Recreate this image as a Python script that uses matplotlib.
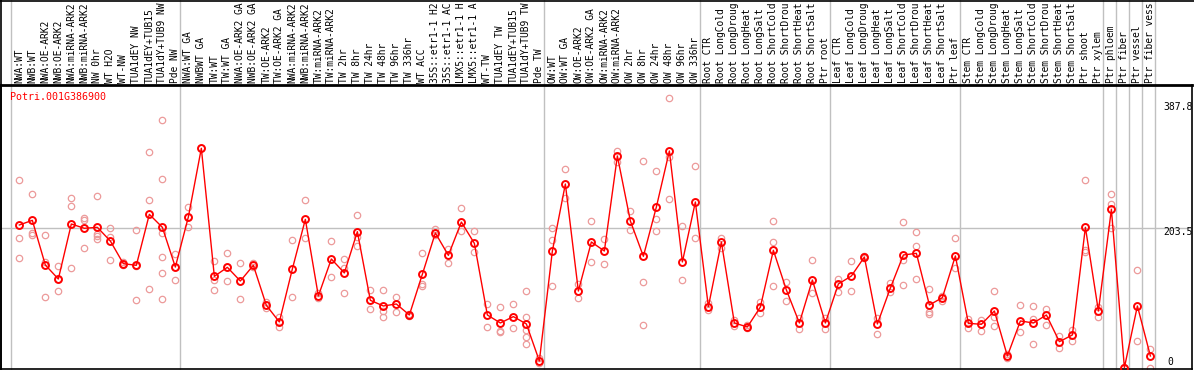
import matplotlib
matplotlib.use("Agg")
import matplotlib.pyplot as plt
from matplotlib.lines import Line2D
from matplotlib.transforms import blended_transform_factory

# gene being shown
gene_id = "Potri.001G386900"

# sample names, left to right (the chart shows at most 14 characters of each)
labels = [
    "NWA:WT", "NWB:WT", "NWA:OE-ARK2", "NWB:OE-ARK2", "NWA:miRNA-ARK2", "NWB:miRNA-ARK2",
    "NW 0hr", "WT H2O", "WT-NW", "TUA1dEY NW", "TUA1dEY+TUB15", "TUA1dY+TUB9 NW", "Pde NW",
    "NWA:WT GA", "NWBWT GA", "TW:WT", "TW:WT GA", "NWA:OE-ARK2 GA", "NWB:OE-ARK2 GA",
    "TW:OE-ARK2", "TW:OE-ARK2 GA", "NWA:miRNA-ARK2 GA", "NWB:miRNA-ARK2 GA", "TW:miRNA-ARK2",
    "TW:miRNA-ARK2 GA", "TW 2hr", "TW 8hr", "TW 24hr", "TW 48hr", "TW 96hr", "TW 336hr",
    "WT ACC", "35S::etr1-1 H2O", "35S::etr1-1 ACC", "LMX5::etr1-1 H2O", "LMX5::etr1-1 ACC",
    "WT-TW", "TUA1dEY TW", "TUA1dEY+TUB15", "TUA1dY+TUB9 TW", "Pde TW",
    "OW:WT", "OW:WT GA", "OW:OE-ARK2", "OW:OE-ARK2 GA", "OW:miRNA-ARK2", "OW:miRNA-ARK2 GA",
    "OW 2hr", "OW 8hr", "OW 24hr", "OW 48hr", "OW 96hr", "OW 336hr",
    "Root CTR", "Root LongCold", "Root LongDrought", "Root LongHeat", "Root LongSalt",
    "Root ShortCold", "Root ShortDrought", "Root ShortHeat", "Root ShortSalt", "Ptr root",
    "Leaf CTR", "Leaf LongCold", "Leaf LongDrought", "Leaf LongHeat", "Leaf LongSalt",
    "Leaf ShortCold", "Leaf ShortDrought", "Leaf ShortHeat", "Leaf ShortSalt", "Ptr leaf",
    "Stem CTR", "Stem LongCold", "Stem LongDrought", "Stem LongHeat", "Stem LongSalt",
    "Stem ShortCold", "Stem ShortDrought", "Stem ShortHeat", "Stem ShortSalt", "Ptr shoot",
    "Ptr xylem", "Ptr phloem", "Ptr fiber", "Ptr vessel", "Ptr fiber vessel",
]
label_chars = 14

# index where each sample group starts (last one = end of data)
group_starts = [0, 13, 41, 53, 63, 73, 84, 85, 86, 87, 88]

means = [
    208.2, 214.8, 151.5, 131.6, 209.6, 203.5, 204.9, 185.5, 153.4, 151.0, 223.3, 204.9, 148.6,
    219.5, 316.9, 135.4, 148.2, 128.8, 151.0, 94.3, 70.7, 145.8, 216.2, 107.6, 160.0, 140.2,
    198.7, 101.4, 93.4, 96.2, 80.6, 138.3, 196.9, 165.2, 212.4, 182.2, 80.6, 69.3, 78.3, 67.9, 15.4,
    171.3, 266.3, 114.6, 184.1, 171.3, 306.0, 213.9, 163.8, 233.7, 313.1, 155.8, 240.8,
    92.4, 184.1, 69.3, 63.6, 91.9, 172.3, 116.1, 69.3, 130.2, 69.3,
    124.6, 135.9, 162.8, 67.9, 118.9, 165.7, 168.0, 94.8, 105.2, 164.3,
    68.8, 67.4, 86.3, 22.5, 72.1, 69.3, 80.6, 42.8, 52.3, 204.9, 86.3,
    230.4, 6.0, 93.4, 22.5,
]

# individual replicates per sample
reps = [
    [271.5, 189.3, 161.4], [252.1, 196.4, 194.5], [193.6, 156.2, 106.1], [149.6, 131.0, 114.2],
    [246.0, 235.1, 147.2], [218.6, 214.8, 175.6], [249.3, 195.0, 193.1, 188.3],
    [203.5, 191.2, 158.6], [156.2, 152.5, 151.5], [200.6, 150.0, 101.9], [311.2, 243.2, 117.5],
    [356.6, 272.9, 197.3, 162.4, 139.7, 103.3], [167.1, 148.6, 129.8],
    [233.7, 219.5, 204.9], [317.0], [157.2, 130.2, 115.6], [168.0, 148.2, 128.3],
    [153.9, 128.8, 102.8], [154.8, 149.1], [99.5, 90.1], [78.3, 63.2], [186.9, 106.1],
    [243.2, 189.3], [111.3, 104.3], [185.0, 134.5], [160.0, 147.7, 111.3],
    [221.9, 191.7, 178.9], [116.1, 89.1], [116.1, 86.3, 77.8], [106.1, 84.4], [81.5, 79.8],
    [168.5, 124.6, 121.3], [202.5, 194.0], [173.7, 153.9], [231.8, 200.2], [199.7, 169.5],
    [96.2, 63.2], [91.9, 58.0, 56.1], [96.2, 62.2], [114.6, 78.3, 59.4, 49.0, 39.1], [19.2, 12.1],
    [203.5, 186.9, 121.8], [287.6, 246.0], [124.6, 104.3], [213.9, 155.3], [188.3, 152.4],
    [313.6, 297.0], [228.1, 201.1], [298.4, 126.9, 66.4], [284.3, 216.7, 199.7],
    [387.8, 305.1, 245.1], [206.8, 130.2], [291.8, 189.8],
    [97.2, 87.7], [190.3, 175.1], [73.5, 65.5], [66.4, 61.7], [98.6, 83.0],
    [213.9, 183.6, 121.3], [127.9, 100.5], [76.8, 60.3], [158.6, 111.8], [76.8, 60.3],
    [131.7, 112.7], [157.2, 114.6], [164.0, 161.5], [75.9, 53.7], [126.5, 113.7],
    [212.4, 159.0, 122.6], [198.3, 178.0, 131.7], [117.5, 85.3, 81.6], [107.6, 100.5],
    [189.8, 147.7],
    [74.5, 62.7], [74.0, 58.4], [114.6, 78.3, 64.6], [24.9, 19.2], [94.8, 56.1],
    [93.4, 74.5, 39.5], [89.1, 66.4], [51.3, 33.4], [59.4, 44.2], [271.5, 172.8, 169.5],
    [92.4, 78.3],
    [251.7, 238.4, 204.4], [7.5], [144.4, 43.8], [32.0, 6.0],
]

# value labels drawn on the right edge
ref_values = [387.8, 203.5, 0]
ref_label_y = [375.0, 198.3, 14.0]

W, H = 1194, 370
fig = plt.figure(figsize=(W / 100, H / 100), dpi=100)
ax = fig.add_axes([1 / W, 1 / H, 1191 / W, 284 / H])

mono = "DejaVu Sans Mono"
x = list(range(len(labels)))

# replicates (light) under the mean line
rx, ry = [], []
for i, vals in enumerate(reps):
    for v in vals:
        rx.append(i)
        ry.append(v)
ax.plot(rx, ry, ls="none", marker="o", ms=4.6, mfc="none", mec="#ec9a9a", mew=0.9, zorder=2)

ax.plot(x, means, color="#ff0000", lw=1.0, marker="o", ms=5.0, mfc="none",
        mec="#ff0000", mew=1.4, zorder=3)

# group separators, reaching up through the label area
for g in group_starts:
    ax.axvline(g - 0.63, ymin=0, ymax=1.31, color="#c0c0c0", lw=1.0, clip_on=False, zorder=1)
ax.axhline(ref_values[1], color="#c0c0c0", lw=1.0, zorder=1)

ax.set_xlim(-1.41, 90.2)
ax.set_ylim(4.04, 406.65)
ax.set_xticks([])
ax.set_yticks([])
for side in ["left", "right", "bottom"]:
    ax.spines[side].set_linewidth(1.2)
ax.spines["top"].set_linewidth(2.0)

# sample labels, vertical, above the plot
tx = ax.get_xaxis_transform()
for i, lab in enumerate(labels):
    ax.text(i, 1 + 2 / 284, lab[:label_chars], transform=tx, rotation=90, ha="center",
            va="bottom", family=mono, fontsize=6.9, color="black", clip_on=False)

ax.text(0.0072, 0.958, gene_id, transform=ax.transAxes, ha="left", va="center",
        family=mono, fontsize=7.2, color="#ff0000")

ty = blended_transform_factory(ax.transAxes, ax.transData)
for v, ly in zip(ref_values, ref_label_y):
    xpos = 0.9757 if v != 0 else 0.979
    ax.text(xpos, ly, f"{v:g}", transform=ty, ha="left", va="center",
            family=mono, fontsize=7.0, color="black")

# outer frame of the label area
fig.add_artist(Line2D([0, 1], [1 - 0.5 / H, 1 - 0.5 / H], color="black", lw=1.2))
fig.add_artist(Line2D([1 / W, 1 / W], [0, 1], color="black", lw=1.2))

fig.savefig("out.png", dpi=100)
